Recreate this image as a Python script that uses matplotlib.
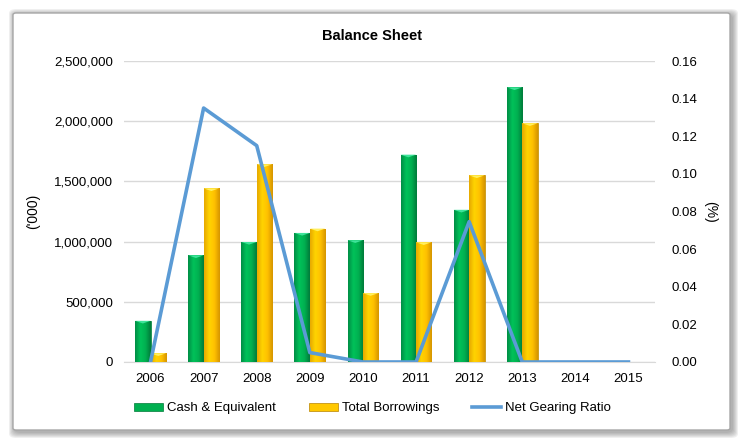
import matplotlib.pyplot as plt
import numpy as np
from matplotlib.patches import FancyBboxPatch
from matplotlib.colors import LinearSegmentedColormap
from matplotlib.ticker import FuncFormatter, MultipleLocator

# Data
years = ["2006", "2007", "2008", "2009", "2010", "2011", "2012", "2013", "2014", "2015"]
cash = [342000, 886000, 997000, 1072000, 1011000, 1722000, 1264000, 2281000, 0, 0]
borrowings = [72000, 1442000, 1642000, 1108000, 572000, 994000, 1550000, 1983000, 0, 0]
gearing = [0.0, 0.135, 0.115, 0.005, 0.0, 0.0, 0.0746, 0.0, 0.0, 0.0]

plt.rcParams['font.family'] = ['Liberation Sans', 'DejaVu Sans']

W, H = 745, 444
fig = plt.figure(figsize=(W / 100, H / 100), dpi=100)
fig.patch.set_facecolor("white")

# Frame with soft shadow (pixel units converted to figure fractions)
bx, by, bw, bh = 13 / W, 14 / H, 717 / W, 417 / H
for i in range(6):
    pad = 6 - i
    fig.patches.append(FancyBboxPatch((bx - pad / W + 2 / W, by - pad / H - 2 / H),
                                      bw + 2 * pad / W, bh + 2 * pad / H,
                                      boxstyle="round,pad=0,rounding_size=0.01",
                                      transform=fig.transFigure, facecolor="#505050",
                                      edgecolor="none", alpha=0.09, zorder=0))
fig.patches.append(FancyBboxPatch((bx, by), bw, bh,
                                  boxstyle="round,pad=0,rounding_size=0.004",
                                  transform=fig.transFigure, facecolor="white",
                                  edgecolor="#a6a6a6", linewidth=1.0, zorder=1))

ax = fig.add_axes([0.1664, 0.1847, 0.7128, 0.6779])
ax.set_zorder(2)
ax.patch.set_alpha(0)

x = np.arange(len(years))
w = 0.29
b1 = ax.bar(x - w / 2, cash, w, color="#00B050", edgecolor="#007A38", linewidth=0.5,
            label="Cash & Equivalent", zorder=3)
b2 = ax.bar(x + w / 2, borrowings, w, color="#FFC800", edgecolor="#B88400", linewidth=0.5,
            label="Total Borrowings", zorder=3)

# shaded look on the bars
green_cm = LinearSegmentedColormap.from_list("g", ["#008C45", "#00C25A", "#00B050", "#007A3A"])
gold_cm = LinearSegmentedColormap.from_list("y", ["#E6A800", "#FFD400", "#FFC000", "#D49400"])
grad = np.linspace(0, 1, 64).reshape(1, -1)
for bars, cm, top in [(b1, green_cm, "#3FE39A"), (b2, gold_cm, "#FFF060")]:
    for p in bars:
        h = p.get_height()
        if h <= 0:
            continue
        x0, wd = p.get_x(), p.get_width()
        im = ax.imshow(grad, cmap=cm, aspect="auto", extent=(x0, x0 + wd, 0, h),
                       zorder=3.1, interpolation="bicubic")
        im.set_clip_path(p)
        th = min(h, 22000)
        ax.fill([x0, x0 + wd, x0 + wd * 0.5], [h, h, h - th], color=top, zorder=3.2,
                linewidth=0)
ax.set_xlim(-0.5, len(years) - 0.5)

ax.set_ylim(0, 2500000)
ax.yaxis.set_major_locator(MultipleLocator(500000))
ax.yaxis.set_major_formatter(FuncFormatter(lambda v, p: f"{int(v):,}"))
ax.set_xticks(x)
ax.set_xticklabels(years)
ax.grid(axis="y", color="#d9d9d9", linewidth=1.0, zorder=0)
ax.set_axisbelow(True)
for s in ["top", "right", "left"]:
    ax.spines[s].set_visible(False)
ax.spines["bottom"].set_color("#d9d9d9")
ax.tick_params(length=0, labelsize=9.5, pad=8)
ax.set_ylabel("('000)", fontsize=10, labelpad=10)

ax2 = ax.twinx()
ax2.plot(x, gearing, color="#5B9BD5", linewidth=2.6, label="Net Gearing Ratio", zorder=4)
ax2.set_ylim(0, 0.16)
ax2.yaxis.set_major_locator(MultipleLocator(0.02))
ax2.yaxis.set_major_formatter(FuncFormatter(lambda v, p: f"{v:.2f}"))
for s in ax2.spines.values():
    s.set_visible(False)
ax2.tick_params(length=0, labelsize=9.5, pad=12)
ax2.set_ylabel("(%)", fontsize=10, rotation=270, labelpad=14)

fig.text(0.5, 0.92, "Balance Sheet", ha="center", va="center", fontsize=10.5,
         fontweight="bold")

h1, l1 = ax.get_legend_handles_labels()
h2, l2 = ax2.get_legend_handles_labels()
fig.legend(h1 + h2, l1 + l2, loc="center", bbox_to_anchor=(0.5, 0.08), ncol=3,
           frameon=False, fontsize=9.5, handlelength=2.2, handleheight=0.5,
           columnspacing=2.5, handletextpad=0.3)

fig.savefig("out.png", dpi=100)
